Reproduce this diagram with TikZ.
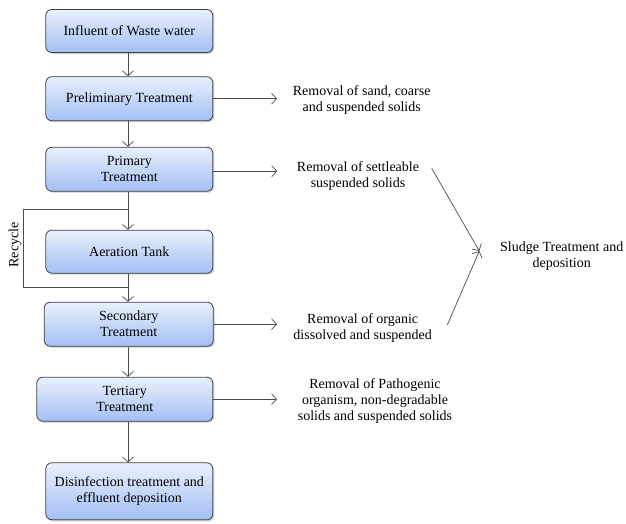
\documentclass[tikz,border=0pt]{standalone}
\usepackage{fontspec}
\newfontfamily\diagfont{Liberation Serif}
\usetikzlibrary{arrows.meta, positioning, shadows}

\definecolor{boxtop}{HTML}{E9F0FD}
\definecolor{boxbot}{HTML}{A3BFF4}

\tikzset{
    stage/.style={draw=black!75, rounded corners=6pt, line width=0.8pt,
        top color=boxtop, bottom color=boxbot,
        drop shadow={shadow xshift=1.5pt, shadow yshift=-1.5pt, fill=black!40, opacity=0.5},
        align=center, inner sep=0pt, font=\diagfont\fontsize{14}{16}\selectfont},
    note/.style={align=center, font=\diagfont\fontsize{14}{16}\selectfont},
    flow/.style={draw=black!70, line width=0.7pt, -{Straight Barb[length=5pt,width=11pt]}},
    link/.style={draw=black!70, line width=0.7pt}
}

\begin{document}
\begin{tikzpicture}[x=1pt, y=-1pt]
    \useasboundingbox (0,0) rectangle (626,523);

    % Etapes
    \node[stage, minimum width=167pt, minimum height=43pt] (infl) at (129.3,31) {Influent of Waste water};
    \node[stage, minimum width=167pt, minimum height=44pt] (prel) at (129.3,98.7) {Preliminary Treatment};
    \node[stage, minimum width=167pt, minimum height=44pt] (prim) at (129.3,169.2) {Primary\\Treatment};
    \node[stage, minimum width=167pt, minimum height=43pt] (aer) at (129.3,251.7) {Aeration Tank};
    \node[stage, minimum width=169pt, minimum height=44pt] (sec) at (128.7,324.2) {Secondary\\Treatment};
    \node[stage, minimum width=176pt, minimum height=44pt] (tert) at (124.8,399.2) {Tertiary\\Treatment};
    \node[stage, minimum width=167pt, minimum height=57pt] (dis) at (129.3,491.3) {Disinfection treatment and\\effluent deposition};

    % Textes a droite
    \node[note] (rsand) at (361.7,100) {Removal of sand, coarse\\and suspended solids};
    \node[note] (rsett) at (358,176) {Removal of settleable\\suspended solids};
    \node[note] (rorg) at (362.7,328) {Removal of organic\\dissolved and suspended};
    \node[note] (rpath) at (375,400.7) {Removal of Pathogenic\\organism, non-degradable\\solids and suspended solids};
    \node[note] (sludge) at (561.7,256) {Sludge Treatment and\\deposition};
    \node[note, rotate=90] (rec) at (15,245) {Recycle};

    % Boucle de recyclage
    \coordinate (rtop) at (128,209.3);
    \coordinate (rbot) at (128,287.7);
    \coordinate (rl1) at (23.3,209.3);
    \coordinate (rl2) at (23.3,287.7);

    % Fleches verticales
    \draw[flow] (infl.south -| rtop) -- (prel.north -| rtop);
    \draw[flow] (prel.south -| rtop) -- (prim.north -| rtop);
    \draw[flow] (prim.south -| rtop) -- (aer.north -| rtop);
    \draw[flow] (aer.south -| rtop) -- (sec.north -| rtop);
    \draw[flow] (sec.south -| rtop) -- (tert.north -| rtop);
    \draw[flow] (tert.south -| rtop) -- (dis.north -| rtop);
    \draw[link] (rtop) -- (rl1) -- (rl2) -- (rbot);

    % Fleches horizontales
    \coordinate (tip) at (277,0);
    \draw[flow] (prel.east) -- (prel.east -| tip);
    \draw[flow] (prim.east) ++(0,2) -- ++(64,0);
    \draw[flow] (sec.east) -- (sec.east -| tip);
    \draw[flow] (tert.east) -- (tert.east -| tip);

    % Vers le traitement des boues
    \coordinate (sin) at (479.3,251);
    \draw[flow] (431.7,168.3) -- (sin);
    \draw[flow] (447.3,325) -- (sin);
\end{tikzpicture}
\end{document}
